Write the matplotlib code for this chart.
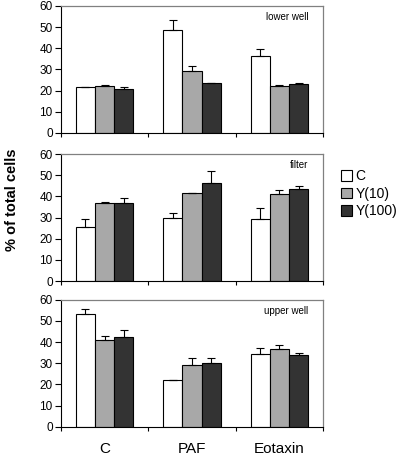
import numpy as np
import matplotlib.pyplot as plt
from matplotlib.patches import Patch

plt.rcParams['font.family'] = ['Liberation Sans', 'DejaVu Sans']

categories = ["C", "PAF", "Eotaxin"]
series = ["C", "Y(10)", "Y(100)"]
colors = ["white", "#a8a8a8", "#333333"]

panels = ["lower well", "filter", "upper well"]
means = {
    "lower well": [[21.5, 48.5, 36.5], [22.0, 29.5, 22.3], [21.0, 23.5, 23.2]],
    "filter": [[25.5, 30.0, 29.5], [37.0, 41.5, 41.2], [37.0, 46.5, 43.3]],
    "upper well": [[53.2, 22.0, 34.5], [41.2, 29.0, 36.7], [42.3, 30.0, 33.8]],
}
errors = {
    "lower well": [[0.4, 5.0, 3.0], [0.5, 2.0, 0.4], [0.8, 0.3, 0.6]],
    "filter": [[3.7, 2.0, 5.0], [0.3, 0.3, 1.6], [2.3, 5.7, 1.8]],
    "upper well": [[2.5, 0.0, 2.7], [1.7, 3.3, 2.0], [3.5, 2.3, 1.0]],
}

fig = plt.figure(figsize=(4.0, 4.57), dpi=100)
left, width, h = 0.1525, 0.655, 0.278
bottoms = [0.709, 0.385, 0.066]

x = np.arange(len(categories))
bw = 0.22
for name, b in zip(panels, bottoms):
    ax = fig.add_axes([left, b, width, h])
    for i in range(3):
        ax.bar(x + (i - 1) * bw, means[name][i], bw, color=colors[i],
               edgecolor="black", linewidth=0.8,
               yerr=[np.zeros(3), errors[name][i]],
               error_kw=dict(ecolor="black", elinewidth=0.8, capsize=3, capthick=0.8))
    ax.set_xlim(-0.5, 2.5)
    ax.set_ylim(0, 60)
    ax.set_yticks(range(0, 61, 10))
    ax.set_xticks([-0.5, 0.5, 1.5, 2.5])
    ax.set_xticklabels([])
    ax.tick_params(axis="y", labelsize=8.5, length=4, width=0.8, pad=2)
    ax.tick_params(axis="x", length=3, width=0.8, direction="out")
    for s in ["top", "right"]:
        ax.spines[s].set_color("#808080")
        ax.spines[s].set_linewidth(0.9)
    ax.spines["left"].set_linewidth(0.8)
    ax.spines["bottom"].set_linewidth(0.8)
    ax.text(0.945, 0.91, name, transform=ax.transAxes, ha="right", va="center", fontsize=7)
    if name == "upper well":
        for xi, c in zip(x, categories):
            ax.text(xi, -7, c, ha="center", va="top", fontsize=11)

fig.text(0.03, 0.562, "% of total cells", rotation=90, ha="center", va="center",
         fontsize=10.5, fontweight="bold")

handles = [Patch(facecolor=c, edgecolor="black", linewidth=0.8) for c in colors]
fig.legend(handles, series, loc="center left", bbox_to_anchor=(0.835, 0.576),
           frameon=False, fontsize=10, handlelength=0.8, handleheight=0.8,
           handletextpad=0.25, labelspacing=0.25, borderpad=0)

fig.savefig("out.png", dpi=100)
